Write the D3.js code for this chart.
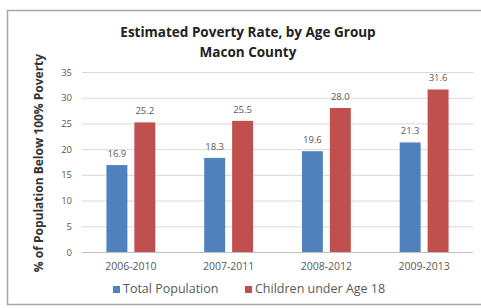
<!DOCTYPE html>
<html><head><meta charset="utf-8">
<script src="https://cdn.jsdelivr.net/npm/d3@7"></script>
<style>
html,body{margin:0;padding:0;background:#fff;}
svg{display:block;}
text{font-family:"Open Sans","DejaVu Sans",sans-serif;}
</style></head>
<body>
<svg id="c" width="481" height="308"></svg>
<script>
const categories = ["2006-2010","2007-2011","2008-2012","2009-2013"];
const seriesNames = ["Total Population","Children under Age 18"];
const totalPopulation = [16.9,18.3,19.6,21.3];
const childrenUnder18 = [25.2,25.5,28.0,31.6];
const yTicks = [0,5,10,15,20,25,30,35];
const colors = ["#4F81BD","#C0504D"];
const titleLines = ["Estimated Poverty Rate, by Age Group","Macon County"];
const yTitle = "% of Population Below 100% Poverty";

const svg = d3.select("#c");
// frame
svg.append("rect").attr("x",7.5).attr("y",10.5).attr("width",490).attr("height",294)
  .attr("fill","#fff").attr("stroke","#a6a6a6").attr("stroke-width",1.5);

const plot = {left:82, right:473, top:72, bottom:252};
const x0 = d3.scaleBand().domain(categories).range([plot.left, plot.right]).padding(0);
const x1 = d3.scaleBand().domain(seriesNames).range([x0.bandwidth()*0.25, x0.bandwidth()*0.75]).paddingInner(0.25).paddingOuter(0);
const y = d3.scaleLinear().domain([0,35]).range([plot.bottom, plot.top]);

// gridlines
svg.append("g").selectAll("line").data(yTicks).join("line")
  .attr("x1",plot.left).attr("x2",plot.right)
  .attr("y1",d=>y(d)+0.5).attr("y2",d=>y(d)+0.5)
  .attr("stroke",d=>d===0?"#bfbfbf":"#d9d9d9").attr("stroke-width",1);

// y axis labels
const yAxis = d3.axisLeft(y).tickValues(yTicks).tickSize(0).tickPadding(10);
const ga = svg.append("g").attr("transform",`translate(${plot.left},0)`).call(yAxis);
ga.select(".domain").remove();
ga.selectAll("text").attr("fill","#595959").style("font-size","9.5px").style("font-family","'Open Sans',sans-serif");

// x axis labels
const xAxis = d3.axisBottom(x0).tickSize(0).tickPadding(11);
const gx = svg.append("g").attr("transform",`translate(0,${plot.bottom})`).call(xAxis);
gx.select(".domain").remove();
gx.selectAll("text").attr("fill","#595959").style("font-size","10.5px").style("font-family","'Open Sans',sans-serif");

const data = categories.map((c,i)=>({cat:c, vals:[totalPopulation[i], childrenUnder18[i]]}));
const groups = svg.append("g").selectAll("g").data(data).join("g")
  .attr("transform",d=>`translate(${x0(d.cat)},0)`);
groups.selectAll("rect").data(d=>d.vals.map((v,j)=>({s:seriesNames[j],v,j}))).join("rect")
  .attr("x",d=>x1(d.s)).attr("width",x1.bandwidth())
  .attr("y",d=>y(d.v)).attr("height",d=>y(0)-y(d.v))
  .attr("fill",d=>colors[d.j]);
groups.selectAll("text").data(d=>d.vals.map((v,j)=>({s:seriesNames[j],v,j}))).join("text")
  .attr("x",d=>x1(d.s)+x1.bandwidth()/2).attr("y",d=>y(d.v)-8)
  .attr("text-anchor","middle").attr("fill","#595959").style("font-size","9.5px")
  .text(d=>d.v.toFixed(1));

// title
svg.append("text").attr("x",248).attr("y",37).attr("text-anchor","middle")
  .style("font-size","13.5px").style("font-weight","bold").attr("fill","#222")
  .text(titleLines[0]);
svg.append("text").attr("x",248).attr("y",57).attr("text-anchor","middle")
  .style("font-size","13.5px").style("font-weight","bold").attr("fill","#222")
  .text(titleLines[1]);

// y title
svg.append("text").attr("transform","translate(43,163) rotate(-90)").attr("text-anchor","middle")
  .style("font-size","12px").style("font-weight","bold").attr("fill","#333")
  .text(yTitle);

// legend
const legX = [113, 245];
const leg = svg.append("g").selectAll("g").data(seriesNames).join("g")
  .attr("transform",(d,i)=>`translate(${legX[i]},293)`);
leg.append("rect").attr("x",0).attr("y",-7).attr("width",7).attr("height",7).attr("fill",(d,i)=>colors[i]);
leg.append("text").attr("x",10).attr("y",0).attr("fill","#595959").style("font-size","12.5px").text(d=>d);
</script>
</body></html>
